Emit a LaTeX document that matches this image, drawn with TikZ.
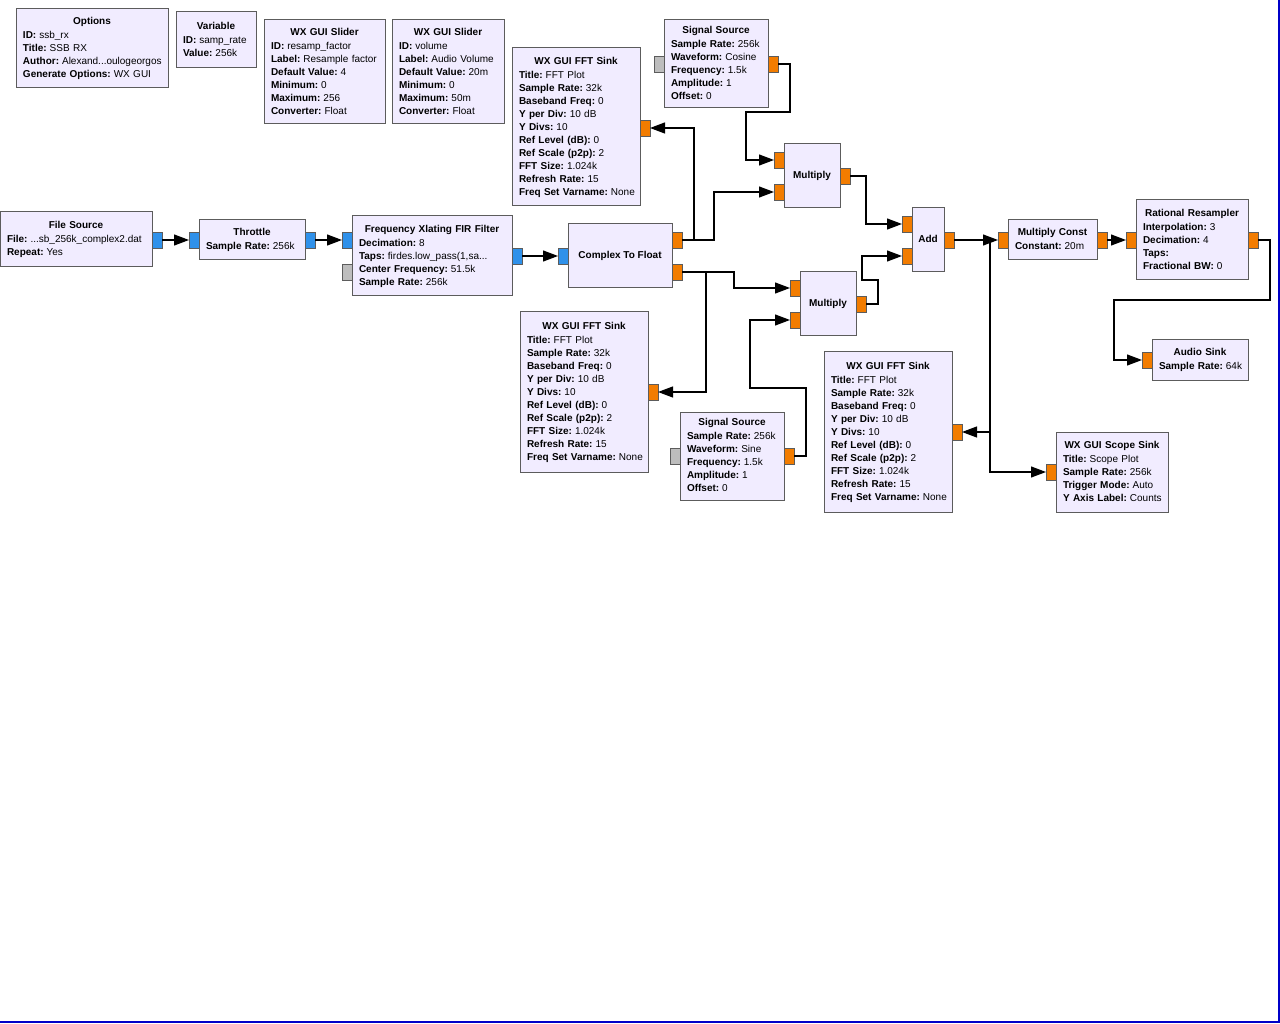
\documentclass[tikz,border=0pt]{standalone}
\usepackage{fontspec}
\setmainfont{Liberation Sans}
\usetikzlibrary{arrows.meta}

\definecolor{blkfill}{HTML}{F1ECFF}
\definecolor{blkline}{HTML}{5C5C5C}
\definecolor{cplx}{HTML}{2F91EA}
\definecolor{flt}{HTML}{F27C00}
\definecolor{msg}{HTML}{BDBDBD}
\definecolor{winline}{HTML}{0000C8}

\newcommand{\blkttl}[1]{\centerline{\strut\bfseries #1}\vskip1pt}
\newcommand{\blkkv}[2]{\mbox{\strut\textbf{#1:}\hspace{3pt}#2}}

\begin{document}
\begin{tikzpicture}[x=1pt,y=-1pt,font=\fontsize{10}{13}\selectfont,
  blk/.style={draw=blkline,fill=blkfill,line width=1pt,anchor=north west,
    inner xsep=7pt,inner ysep=0pt,outer sep=0pt,align=left},
  port/.style={draw=blkline,line width=0.9pt,minimum width=10pt,minimum height=16pt,
    inner sep=0pt,outer sep=0pt},
  lport/.style={port,anchor=east},
  rport/.style={port,anchor=west},
  conn/.style={draw=black,line width=1.2pt,-{Triangle[length=15pt,width=11pt]}}]
  \useasboundingbox (0,0) rectangle (1280,1024);

  % variables and options
  \node[blk,minimum width=152pt,minimum height=79pt,text width=138pt] (opts) at (16,9)
    {\blkttl{Options}\blkkv{ID}{ssb\_rx}\\\blkkv{Title}{SSB RX}\\
     \blkkv{Author}{Alexand...oulogeorgos}\\\blkkv{Generate Options}{WX GUI}};
  \node[blk,minimum width=80pt,minimum height=56pt,text width=66pt] (var) at (176,12)
    {\blkttl{Variable}\blkkv{ID}{samp\_rate}\\\blkkv{Value}{256k}};
  \node[blk,minimum width=121pt,minimum height=104pt,text width=107pt] (sld1) at (264,20)
    {\blkttl{WX GUI Slider}\blkkv{ID}{resamp\_factor}\\\blkkv{Label}{Resample factor}\\
     \blkkv{Default Value}{4}\\\blkkv{Minimum}{0}\\\blkkv{Maximum}{256}\\\blkkv{Converter}{Float}};
  \node[blk,minimum width=112pt,minimum height=104pt,text width=98pt] (sld2) at (392,20)
    {\blkttl{WX GUI Slider}\blkkv{ID}{volume}\\\blkkv{Label}{Audio Volume}\\
     \blkkv{Default Value}{20m}\\\blkkv{Minimum}{0}\\\blkkv{Maximum}{50m}\\\blkkv{Converter}{Float}};

  % receive chain
  \node[blk,minimum width=152pt,minimum height=55pt,text width=138pt] (file) at (0,212)
    {\blkttl{File Source}\blkkv{File}{...sb\_256k\_complex2.dat}\\\blkkv{Repeat}{Yes}};
  \node[blk,minimum width=106pt,minimum height=40pt,text width=92pt] (thr) at (199,220)
    {\blkttl{Throttle}\blkkv{Sample Rate}{256k}};
  \node[blk,minimum width=160pt,minimum height=80pt,text width=146pt] (fir) at (352,216)
    {\blkttl{Frequency Xlating FIR Filter}\blkkv{Decimation}{8}\\
     \blkkv{Taps}{firdes.low\_pass(1,sa...}\\\blkkv{Center Frequency}{51.5k}\\\blkkv{Sample Rate}{256k}};
  \node[blk,minimum width=104pt,minimum height=64pt,inner xsep=0pt,align=center] (c2f) at (568,224)
    {\strut\bfseries Complex To Float};

  % FFT sinks
  \node[blk,minimum width=128pt,minimum height=158pt,text width=114pt] (fft1) at (512,48)
    {\blkttl{WX GUI FFT Sink}\blkkv{Title}{FFT Plot}\\\blkkv{Sample Rate}{32k}\\
     \blkkv{Baseband Freq}{0}\\\blkkv{Y per Div}{10 dB}\\\blkkv{Y Divs}{10}\\
     \blkkv{Ref Level (dB)}{0}\\\blkkv{Ref Scale (p2p)}{2}\\\blkkv{FFT Size}{1.024k}\\
     \blkkv{Refresh Rate}{15}\\\blkkv{Freq Set Varname}{None}};
  \node[blk,minimum width=128pt,minimum height=160pt,text width=114pt] (fft2) at (520,312)
    {\blkttl{WX GUI FFT Sink}\blkkv{Title}{FFT Plot}\\\blkkv{Sample Rate}{32k}\\
     \blkkv{Baseband Freq}{0}\\\blkkv{Y per Div}{10 dB}\\\blkkv{Y Divs}{10}\\
     \blkkv{Ref Level (dB)}{0}\\\blkkv{Ref Scale (p2p)}{2}\\\blkkv{FFT Size}{1.024k}\\
     \blkkv{Refresh Rate}{15}\\\blkkv{Freq Set Varname}{None}};
  \node[blk,minimum width=128pt,minimum height=160pt,text width=114pt] (fft3) at (824,352)
    {\blkttl{WX GUI FFT Sink}\blkkv{Title}{FFT Plot}\\\blkkv{Sample Rate}{32k}\\
     \blkkv{Baseband Freq}{0}\\\blkkv{Y per Div}{10 dB}\\\blkkv{Y Divs}{10}\\
     \blkkv{Ref Level (dB)}{0}\\\blkkv{Ref Scale (p2p)}{2}\\\blkkv{FFT Size}{1.024k}\\
     \blkkv{Refresh Rate}{15}\\\blkkv{Freq Set Varname}{None}};

  % mixers
  \node[blk,minimum width=104pt,minimum height=88pt,text width=90pt] (sig1) at (664,20)
    {\blkttl{Signal Source}\blkkv{Sample Rate}{256k}\\\blkkv{Waveform}{Cosine}\\
     \blkkv{Frequency}{1.5k}\\\blkkv{Amplitude}{1}\\\blkkv{Offset}{0}};
  \node[blk,minimum width=104pt,minimum height=88pt,text width=90pt] (sig2) at (680,412)
    {\blkttl{Signal Source}\blkkv{Sample Rate}{256k}\\\blkkv{Waveform}{Sine}\\
     \blkkv{Frequency}{1.5k}\\\blkkv{Amplitude}{1}\\\blkkv{Offset}{0}};
  \node[blk,minimum width=56pt,minimum height=64pt,inner xsep=0pt,align=center] (mul1) at (784,144)
    {\strut\bfseries Multiply};
  \node[blk,minimum width=56pt,minimum height=64pt,inner xsep=0pt,align=center] (mul2) at (800,272)
    {\strut\bfseries Multiply};
  \node[blk,minimum width=32pt,minimum height=64pt,inner xsep=0pt,align=center] (add) at (912,208)
    {\strut\bfseries Add};

  % audio out
  \node[blk,minimum width=89pt,minimum height=40pt,text width=75pt] (mc) at (1008,220)
    {\blkttl{Multiply Const}\blkkv{Constant}{20m}};
  \node[blk,minimum width=112pt,minimum height=80pt,text width=98pt] (rr) at (1136,200)
    {\blkttl{Rational Resampler}\blkkv{Interpolation}{3}\\\blkkv{Decimation}{4}\\
     \blkkv{Taps}{}\\\blkkv{Fractional BW}{0}};
  \node[blk,minimum width=96pt,minimum height=40pt,text width=82pt] (audio) at (1152,340)
    {\blkttl{Audio Sink}\blkkv{Sample Rate}{64k}};
  \node[blk,minimum width=112pt,minimum height=80pt,text width=98pt] (scope) at (1056,432)
    {\blkttl{WX GUI Scope Sink}\blkkv{Title}{Scope Plot}\\\blkkv{Sample Rate}{256k}\\
     \blkkv{Trigger Mode}{Auto}\\\blkkv{Y Axis Label}{Counts}};

  % ports
  \node[rport,fill=cplx] (file-out) at (152,240) {};
  \node[lport,fill=cplx] (thr-in) at (199,240) {};
  \node[rport,fill=cplx] (thr-out) at (305,240) {};
  \node[lport,fill=cplx] (fir-in) at (352,240) {};
  \node[lport,fill=msg] (fir-msg) at (352,272) {};
  \node[rport,fill=cplx] (fir-out) at (512,256) {};
  \node[lport,fill=cplx] (c2f-in) at (568,256) {};
  \node[rport,fill=flt] (c2f-o1) at (672,240) {};
  \node[rport,fill=flt] (c2f-o2) at (672,272) {};
  \node[rport,fill=flt] (fft1-in) at (640,128) {};
  \node[rport,fill=flt] (fft2-in) at (648,392) {};
  \node[rport,fill=flt] (fft3-in) at (952,432) {};
  \node[lport,fill=msg] (sig1-msg) at (664,64) {};
  \node[rport,fill=flt] (sig1-out) at (768,64) {};
  \node[lport,fill=msg] (sig2-msg) at (680,456) {};
  \node[rport,fill=flt] (sig2-out) at (784,456) {};
  \node[lport,fill=flt] (mul1-i1) at (784,160) {};
  \node[lport,fill=flt] (mul1-i2) at (784,192) {};
  \node[rport,fill=flt] (mul1-out) at (840,176) {};
  \node[lport,fill=flt] (mul2-i1) at (800,288) {};
  \node[lport,fill=flt] (mul2-i2) at (800,320) {};
  \node[rport,fill=flt] (mul2-out) at (856,304) {};
  \node[lport,fill=flt] (add-i1) at (912,224) {};
  \node[lport,fill=flt] (add-i2) at (912,256) {};
  \node[rport,fill=flt] (add-out) at (944,240) {};
  \node[lport,fill=flt] (mc-in) at (1008,240) {};
  \node[rport,fill=flt] (mc-out) at (1097,240) {};
  \node[lport,fill=flt] (rr-in) at (1136,240) {};
  \node[rport,fill=flt] (rr-out) at (1248,240) {};
  \node[lport,fill=flt] (audio-in) at (1152,360) {};
  \node[lport,fill=flt] (scope-in) at (1056,472) {};

  % connections
  \draw[conn] (file-out.east) -- (thr-in.west);
  \draw[conn] (thr-out.east) -- (fir-in.west);
  \draw[conn] (fir-out.east) -- (c2f-in.west);
  \draw[conn] (c2f-o1.east) -- ++(12,0) |- (fft1-in.east);
  \draw[conn] (c2f-o1.east) -- ++(32,0) |- (mul1-i2.west);
  \draw[conn] (sig1-out.east) -- ++(12,0) |- ++(-44,48) |- (mul1-i1.west);
  \draw[conn] (mul1-out.east) -- ++(16,0) |- (add-i1.west);
  \draw[conn] (c2f-o2.east) -- ++(24,0) |- (fft2-in.east);
  \draw[conn] (c2f-o2.east) -- ++(52,0) |- (mul2-i1.west);
  \draw[conn] (sig2-out.east) -- ++(12,0) |- ++(-56,-68) |- (mul2-i2.west);
  \draw[conn] (mul2-out.east) -- ++(12,0) |- ++(-16,-24) |- (add-i2.west);
  \draw[conn] (add-out.east) -- (mc-in.west);
  \draw[conn] (add-out.east) -- ++(36,0) |- (fft3-in.east);
  \draw[conn] (add-out.east) -- ++(36,0) |- (scope-in.west);
  \draw[conn] (mc-out.east) -- (rr-in.west);
  \draw[conn] (rr-out.east) -- ++(12,0) |- ++(-156,60) |- (audio-in.west);

  % window edge
  \draw[winline,line width=1.5pt] (1279,0) -- (1279,1022) -- (0,1022);
\end{tikzpicture}
\end{document}
